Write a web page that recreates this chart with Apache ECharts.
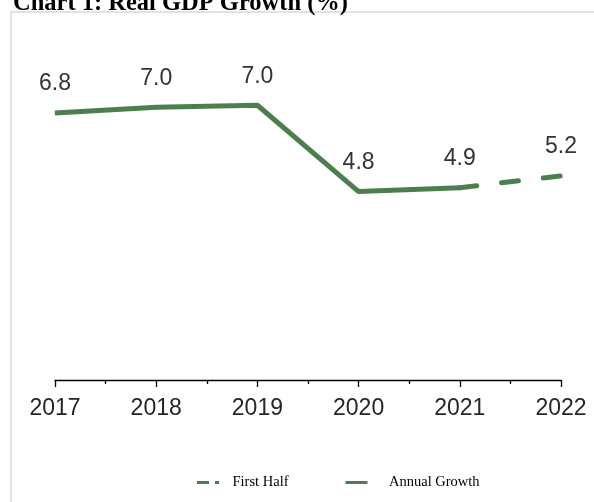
<!DOCTYPE html>
<html>
<head>
<meta charset="utf-8">
<script src="https://cdn.jsdelivr.net/npm/echarts@6/dist/echarts.min.js"></script>
<style>
  html, body { margin: 0; padding: 0; background: #fff; }
  #chart { width: 594px; height: 502px; }
</style>
</head>
<body>
<div id="chart"></div>
<script>
// Real GDP growth, annual figures plus the first-half reading for the latest year
const years = [2017, 2018, 2019, 2020, 2021, 2022];
const annualGrowth = [6.8, 6.95, 7.0, 4.8, 4.9, null];
const firstHalf = [null, null, null, null, 4.9, 5.2];
const annualLabels = ['6.8', '7.0', '7.0', '4.8', '4.9', ''];
const firstHalfLabels = ['', '', '', '', '', '5.2'];

const green = '#4d7f4e';

function pairs(values) {
  return years.map((y, i) => [y, values[i]]);
}

const labelStyle = {
  show: true,
  position: 'top',
  distance: 17,
  fontFamily: 'Liberation Sans',
  fontSize: 23,
  color: '#333333'
};

// legend keys: a dash-and-dot stroke and a plain stroke
const dashedKey = 'path://M0,0 L12,0 L12,3 L0,3 Z M18,0 L22,0 L22,3 L18,3 Z';
const solidKey = 'path://M0,0 L22,0 L22,3 L0,3 Z';

const chart = echarts.init(document.getElementById('chart'), null, { renderer: 'canvas' });

chart.setOption({
  animation: false,
  backgroundColor: '#ffffff',
  title: {
    text: 'Chart 1: Real GDP Growth (%)',
    left: 8,
    top: -14,
    textStyle: {
      fontFamily: 'Liberation Serif',
      fontWeight: 'bold',
      fontSize: 24.5,
      color: '#000'
    }
  },
  graphic: [{
    type: 'rect',
    shape: { x: 11, y: 12, width: 700, height: 700 },
    style: { fill: 'none', stroke: '#d9d9d9', lineWidth: 1.5 },
    silent: true,
    z: -1
  }],
  grid: { left: 55, right: 33, top: 66, bottom: 122 },
  xAxis: {
    type: 'value',
    min: 2017,
    max: 2022,
    interval: 1,
    splitLine: { show: false },
    axisLine: { show: true, lineStyle: { color: '#000', width: 1.3 } },
    axisTick: { show: true, length: 7, lineStyle: { color: '#000', width: 1.3 } },
    minorTick: { show: true, splitNumber: 2, length: 4, lineStyle: { color: '#000', width: 1.3 } },
    axisLabel: {
      margin: 17,
      fontFamily: 'Liberation Sans',
      fontSize: 23,
      color: '#262626',
      formatter: v => String(v)
    }
  },
  yAxis: {
    type: 'value',
    min: 0,
    max: 8,
    show: false,
    splitLine: { show: false }
  },
  legend: {
    bottom: 12,
    left: 197,
    padding: 0,
    itemWidth: 23,
    itemHeight: 3,
    itemGap: 57,
    textStyle: {
      fontFamily: 'Liberation Serif',
      fontSize: 14.5,
      color: '#000',
      padding: [0, 0, 0, 8]
    },
    data: [
      { name: 'First Half', icon: dashedKey },
      {
        name: 'Annual Growth',
        icon: solidKey,
        textStyle: {
          fontFamily: 'Liberation Serif',
          fontSize: 14.5,
          color: '#000',
          padding: [0, 0, 0, 16]
        }
      }
    ]
  },
  series: [
    {
      name: 'First Half',
      type: 'line',
      data: pairs(firstHalf),
      symbol: 'circle',
      symbolSize: 1,
      showSymbol: true,
      connectNulls: false,
      lineStyle: { color: green, width: 5, type: [17, 25], cap: 'round' },
      itemStyle: { color: green },
      label: Object.assign({}, labelStyle, {
        formatter: p => firstHalfLabels[p.dataIndex]
      }),
      z: 2
    },
    {
      name: 'Annual Growth',
      type: 'line',
      data: pairs(annualGrowth),
      symbol: 'circle',
      symbolSize: 1,
      showSymbol: true,
      connectNulls: false,
      lineStyle: { color: green, width: 5 },
      itemStyle: { color: green },
      label: Object.assign({}, labelStyle, {
        formatter: p => annualLabels[p.dataIndex]
      }),
      z: 3
    }
  ]
});
</script>
</body>
</html>
